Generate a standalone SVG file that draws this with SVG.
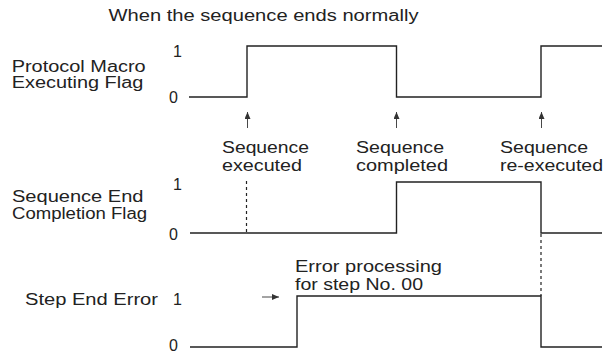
<svg xmlns="http://www.w3.org/2000/svg" width="611" height="355" viewBox="0 0 611 355">
  <style>
    text { font-family: "Liberation Sans", Arial, sans-serif; font-size: 16px; fill: #222; }
    .wave { fill: none; stroke: #222; stroke-width: 1.4; }
    .dash { fill: none; stroke: #222; stroke-width: 1.2; stroke-dasharray: 3 3; }
    .arr { fill: none; stroke: #333; stroke-width: 0.9; }
  </style>
  <defs>
    <marker id="ah" viewBox="0 0 7 6" refX="7" refY="3" markerWidth="7" markerHeight="6" markerUnits="userSpaceOnUse" orient="auto">
      <path d="M0,0 L7,3 L0,6 Z" fill="#333"/>
    </marker>
  </defs>

  <text id="title" x="108.5" y="20.5" textLength="310" lengthAdjust="spacingAndGlyphs">When the sequence ends normally</text>

  <g id="protocol-macro-flag">
    <text x="11.7" y="72" textLength="134" lengthAdjust="spacingAndGlyphs">Protocol Macro</text>
    <text x="11.7" y="88" textLength="131.6" lengthAdjust="spacingAndGlyphs">Executing Flag</text>
    <text x="173" y="57">1</text>
    <text x="169" y="103">0</text>
    <polyline class="wave" points="189,97 247,97 247,46 396.5,46 396.5,97 541,97 541,46 602,46"/>
  </g>

  <g id="sequence-end-flag">
    <text x="12" y="202" textLength="131.5" lengthAdjust="spacingAndGlyphs">Sequence End</text>
    <text x="12" y="219" textLength="135" lengthAdjust="spacingAndGlyphs">Completion Flag</text>
    <text x="173" y="190">1</text>
    <text x="169" y="240">0</text>
    <polyline class="wave" points="190,233 396.5,233 396.5,182 541,182 541,233 602,233"/>
  </g>

  <g id="step-end-error">
    <text x="25" y="305" textLength="133" lengthAdjust="spacingAndGlyphs">Step End Error</text>
    <text x="173" y="305">1</text>
    <text x="169" y="351">0</text>
    <polyline class="wave" points="190,347 297,347 297,296 541,296 541,347 602,347"/>
  </g>

  <g id="label-executed">
    <text x="222" y="153" textLength="87" lengthAdjust="spacingAndGlyphs">Sequence</text>
    <text x="222" y="171" textLength="80" lengthAdjust="spacingAndGlyphs">executed</text>
  </g>
  <g id="label-completed">
    <text x="356" y="153" textLength="88" lengthAdjust="spacingAndGlyphs">Sequence</text>
    <text x="356" y="171" textLength="92" lengthAdjust="spacingAndGlyphs">completed</text>
  </g>
  <g id="label-reexecuted">
    <text x="500" y="153" textLength="88" lengthAdjust="spacingAndGlyphs">Sequence</text>
    <text x="500" y="171" textLength="103" lengthAdjust="spacingAndGlyphs">re-executed</text>
  </g>
  <g id="label-error">
    <text x="295" y="272" textLength="147" lengthAdjust="spacingAndGlyphs">Error processing</text>
    <text x="295" y="290" textLength="128" lengthAdjust="spacingAndGlyphs">for step No. 00</text>
  </g>

  <g id="connectors">
    <line class="arr" x1="247.5" y1="128" x2="247.5" y2="112" marker-end="url(#ah)"/>
    <line class="arr" x1="396.5" y1="128" x2="396.5" y2="112" marker-end="url(#ah)"/>
    <line class="arr" x1="541.5" y1="128" x2="541.5" y2="112" marker-end="url(#ah)"/>
    <line class="dash" x1="246.5" y1="181" x2="246.5" y2="233"/>
    <line class="dash" x1="541" y1="234" x2="541" y2="296"/>
    <line class="arr" x1="262" y1="297" x2="279" y2="297" marker-end="url(#ah)"/>
  </g>
</svg>
